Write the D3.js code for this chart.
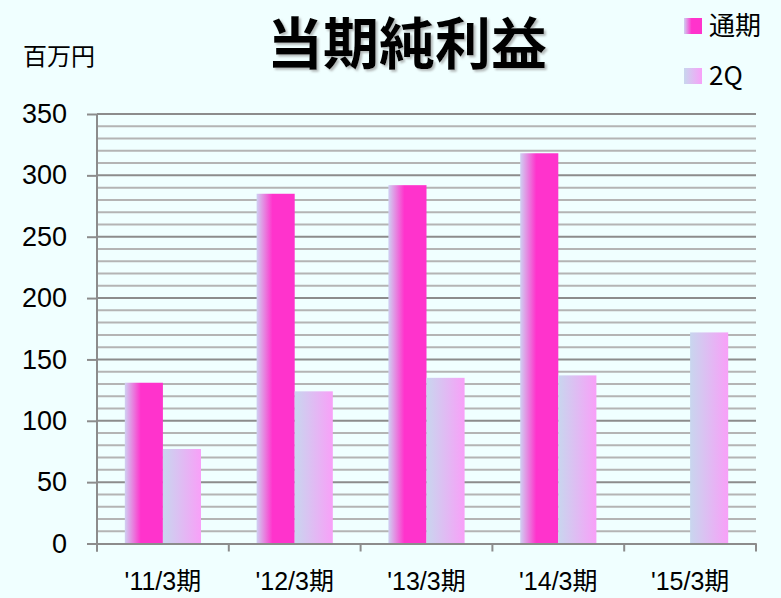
<!DOCTYPE html>
<html>
<head>
<meta charset="utf-8">
<script src="https://cdn.jsdelivr.net/npm/d3@7"></script>
<style>
  body { margin: 0; background: #f0ffff; }
  svg { display: block; }
  text { font-family: "Liberation Sans", "Noto Sans CJK JP", sans-serif; }
</style>
</head>
<body>
<svg id="svg" width="781" height="598"></svg>
<script>
"use strict";

// data
const categories = ["'11/3期", "'12/3期", "'13/3期", "'14/3期", "'15/3期"];
const seriesNames = ["通期", "2Q"];
const fullYear = [131, 285, 292, 318, null];
const secondQ = [77, 124, 135, 137, 172];
const yTicks = [0, 50, 100, 150, 200, 250, 300, 350];

const plotLeft = 97, plotRight = 756, plotTop = 114, plotBottom = 543.5;

var svg = d3.select("svg");

var defs = svg.append("defs");
var g1 = defs.append("linearGradient").attr("id", "gMain");
g1.append("stop").attr("offset", "0%").attr("stop-color", "#cfd0f2");
g1.append("stop").attr("offset", "42%").attr("stop-color", "#ff33cc");
g1.append("stop").attr("offset", "100%").attr("stop-color", "#ff33cc");
var g2 = defs.append("linearGradient").attr("id", "g2Q");
g2.append("stop").attr("offset", "0%").attr("stop-color", "#c8d6ee");
g2.append("stop").attr("offset", "100%").attr("stop-color", "#f8a0f8");
var shadow = defs.append("filter").attr("id", "shadow");
shadow.append("feDropShadow").attr("dx", 2).attr("dy", 2).attr("stdDeviation", 1)
    .attr("flood-color", "#888").attr("flood-opacity", 0.6);

var x = d3.scaleBand().domain(categories).range([plotLeft, plotRight]).paddingInner(0).paddingOuter(0);
var y = d3.scaleLinear().domain([0, 350]).range([plotBottom, plotTop]);
var inner = d3.scaleBand().domain(seriesNames).range([0, x.bandwidth()]).paddingInner(0).paddingOuter(0.73);

// gridlines every 10
var grid = svg.append("g");
grid.selectAll("line")
    .data(d3.range(10, 351, 10))
    .enter()
    .append("line")
        .attr("x1", plotLeft)
        .attr("x2", plotRight)
        .attr("y1", d => y(d))
        .attr("y2", d => y(d))
        .attr("stroke", d => d % 50 === 0 ? "#8c8c8c" : "#b4b4b4")
        .attr("stroke-width", 2);

// bars
var data = [];
categories.forEach((c, i) => {
    if (fullYear[i] != null) data.push({cat: c, s: "通期", v: fullYear[i]});
    if (secondQ[i] != null) data.push({cat: c, s: "2Q", v: secondQ[i]});
});

svg.append("g").selectAll("rect")
    .data(data)
    .enter()
    .append("rect")
        .attr("x", d => x(d.cat) + inner(d.s))
        .attr("width", inner.bandwidth())
        .attr("y", d => y(d.v))
        .attr("height", d => y(0) - y(d.v))
        .attr("fill", d => d.s === "通期" ? "url(#gMain)" : "url(#g2Q)");

// y axis
var yAxis = svg.append("g")
    .attr("transform", "translate(" + plotLeft + ",0)")
    .call(d3.axisLeft(y).tickValues(yTicks).tickSize(10).tickPadding(20).tickSizeOuter(0));
yAxis.select(".domain").attr("stroke", "#8c8c8c").attr("stroke-width", 2)
    .attr("d", "M0," + plotTop + "V" + (plotBottom + 8));
yAxis.selectAll(".tick line").attr("stroke", "#8c8c8c").attr("stroke-width", 2);
yAxis.selectAll(".tick text")
    .attr("font-size", 27)
    .attr("fill", "#000")
    .style("font-family", "'Liberation Sans', sans-serif");

// x axis
var xAxis = svg.append("g")
    .attr("transform", "translate(0," + plotBottom + ")")
    .call(d3.axisBottom(x).tickSize(0).tickPadding(29).tickSizeOuter(0));
xAxis.select(".domain").attr("stroke", "#8c8c8c").attr("stroke-width", 2);
xAxis.selectAll(".tick text")
    .attr("font-size", 25)
    .attr("fill", "#000")
    .style("font-family", "'Liberation Sans', 'Noto Sans CJK JP', sans-serif");
xAxis.selectAll(".sep")
    .data(d3.range(categories.length + 1))
    .enter()
    .append("line")
        .attr("x1", i => plotLeft + i * x.step())
        .attr("x2", i => plotLeft + i * x.step())
        .attr("y1", 0)
        .attr("y2", 8)
        .attr("stroke", "#8c8c8c")
        .attr("stroke-width", 2);

// title
svg.append("text")
    .attr("x", 407)
    .attr("y", 64)
    .attr("text-anchor", "middle")
    .attr("font-size", 56)
    .attr("font-weight", "bold")
    .attr("filter", "url(#shadow)")
    .style("font-family", "'Noto Sans CJK JP', sans-serif")
    .text("当期純利益");

// unit
svg.append("text")
    .attr("x", 23)
    .attr("y", 65)
    .attr("font-size", 24)
    .style("font-family", "'Noto Sans CJK JP', sans-serif")
    .text("百万円");

// legend
var legend = svg.append("g").selectAll("g")
    .data(seriesNames)
    .enter()
    .append("g")
        .attr("transform", (d, i) => "translate(684," + (18 + i * 50) + ")");
legend.append("rect")
    .attr("width", 18)
    .attr("height", 16)
    .attr("fill", d => d === "通期" ? "url(#gMain)" : "url(#g2Q)");
legend.append("text")
    .attr("x", 25)
    .attr("y", 17)
    .attr("font-size", 26)
    .style("font-family", "'Noto Sans CJK JP', sans-serif")
    .text(d => d);
</script>
</body>
</html>
